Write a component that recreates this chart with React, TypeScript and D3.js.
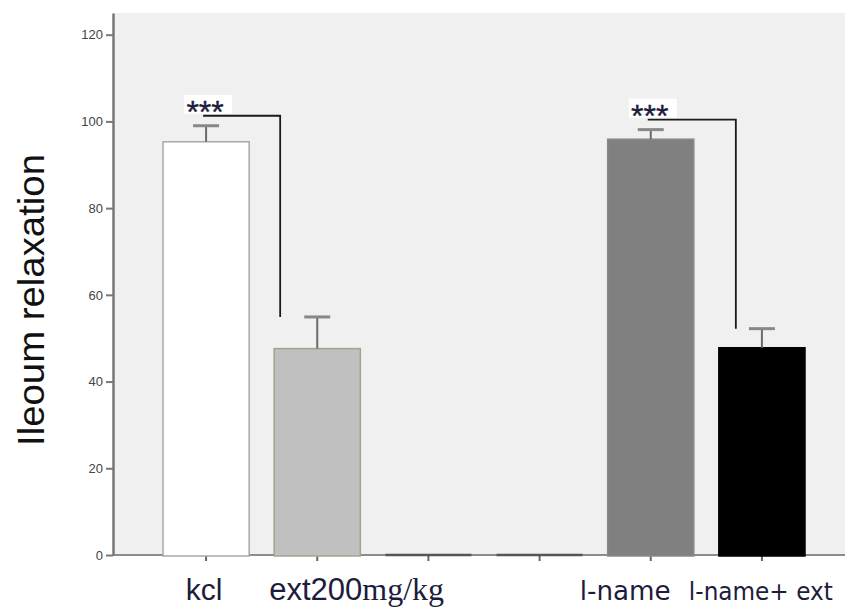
import React, { useRef, useEffect } from "react";
import * as d3 from "d3";

const width = 845;
const height = 607;
const plot = { left: 113, top: 13, right: 845, bottom: 555 };

// groups left to right, two empty slots in the middle
const categories = ["kcl", "ext200mg/kg", "", "", "l-name", "l-name+ ext"];
const means = [95.3, 47.6, 0, 0, 95.9, 47.8];
const errors = [3.7, 7.3, 0, 0, 2.2, 4.4];
const yTicks = [0, 20, 40, 60, 80, 100, 120];

// significance brackets
const sigFrom = [0, 4];
const sigTo = [1, 5];
const sigHeight = [101.3, 100.4];
const sigText = ["***", "***"];

const barFill = ["#ffffff", "#c0c0c0", "#c0c0c0", "#c0c0c0", "#808080", "#000000"];
const barStroke = ["#a8a8a8", "#a4a48a", "#555555", "#555555", "#8a8a8a", "#000000"];

const sans = "'Liberation Sans', Arial, sans-serif";

const App = () => {
    const svgRef = useRef<SVGSVGElement>(null);

    useEffect(() => {
        const svg = d3.select(svgRef.current);
        svg.selectAll("*").remove();

        const x = d3
            .scaleBand<number>()
            .domain(d3.range(categories.length))
            .range([150.5, 817.5])
            .paddingInner(0.225)
            .paddingOuter(0.1125);
        const y = d3.scaleLinear().domain([0, 125]).range([plot.bottom, plot.top]);
        const bw = x.bandwidth();
        const cx = (i: number) => (x(i) as number) + bw / 2;

        // plot background
        svg.append("rect")
            .attr("x", plot.left)
            .attr("y", plot.top)
            .attr("width", plot.right - plot.left)
            .attr("height", plot.bottom - plot.top)
            .attr("fill", "#f0f0f0");

        // x axis line + ticks
        svg.append("line")
            .attr("x1", plot.left)
            .attr("x2", plot.right)
            .attr("y1", plot.bottom)
            .attr("y2", plot.bottom)
            .attr("stroke", "#8c8c8c")
            .attr("stroke-width", 2);
        svg.append("g")
            .selectAll("line")
            .data(categories)
            .join("line")
            .attr("x1", (d, i) => cx(i))
            .attr("x2", (d, i) => cx(i))
            .attr("y1", plot.bottom)
            .attr("y2", plot.bottom + 6)
            .attr("stroke", "#666")
            .attr("stroke-width", 2);

        // y axis
        const yAxis = svg
            .append("g")
            .attr("transform", `translate(${plot.left},0)`)
            .call(
                d3.axisLeft(y).tickValues(yTicks).tickSize(7).tickSizeOuter(0).tickPadding(3)
            );
        yAxis.select(".domain").attr("stroke", "#777").attr("stroke-width", 2.5);
        yAxis.selectAll(".tick line").attr("stroke", "#777").attr("stroke-width", 2);
        yAxis
            .selectAll(".tick text")
            .attr("fill", "#444")
            .attr("font-size", 13)
            .attr("font-family", sans);

        // bars
        const idx = d3.range(categories.length);
        svg.append("g")
            .selectAll("rect")
            .data(idx.filter((i) => means[i] > 0))
            .join("rect")
            .attr("x", (i) => x(i) as number)
            .attr("y", (i) => y(means[i]))
            .attr("width", bw)
            .attr("height", (i) => plot.bottom - y(means[i]) + 1)
            .attr("fill", (i) => barFill[i])
            .attr("stroke", (i) => barStroke[i])
            .attr("stroke-width", 1.5);

        // empty groups: flat bars on the axis
        svg.append("g")
            .selectAll("line")
            .data(idx.filter((i) => means[i] === 0))
            .join("line")
            .attr("x1", (i) => x(i) as number)
            .attr("x2", (i) => (x(i) as number) + bw)
            .attr("y1", plot.bottom)
            .attr("y2", plot.bottom)
            .attr("stroke", (i) => barStroke[i])
            .attr("stroke-width", 2.5);

        // error bars
        const err = svg.append("g").selectAll("g").data(idx.filter((i) => errors[i] > 0)).join("g");
        err.append("line")
            .attr("x1", (i) => cx(i))
            .attr("x2", (i) => cx(i))
            .attr("y1", (i) => y(means[i]))
            .attr("y2", (i) => y(means[i] + errors[i]))
            .attr("stroke", "#6a6a6a")
            .attr("stroke-width", 2);
        err.append("line")
            .attr("x1", (i) => cx(i) - 13)
            .attr("x2", (i) => cx(i) + 13)
            .attr("y1", (i) => y(means[i] + errors[i]))
            .attr("y2", (i) => y(means[i] + errors[i]))
            .attr("stroke", "#888")
            .attr("stroke-width", 3);

        // significance brackets
        const endShift = [6, 17];
        sigFrom.forEach((a, k) => {
            const b = sigTo[k];
            const ly = y(sigHeight[k]);
            svg.append("path")
                .attr(
                    "d",
                    `M${cx(a) - 3},${ly}H${(x(b) as number) + endShift[k]}V${y(means[b] + errors[b])}`
                )
                .attr("fill", "none")
                .attr("stroke", "#1a1a1a")
                .attr("stroke-width", 1.8);
            svg.append("rect")
                .attr("x", cx(a) - 22)
                .attr("y", ly - 21)
                .attr("width", 48)
                .attr("height", 19)
                .attr("fill", "#ffffff");
            svg.append("text")
                .attr("x", cx(a) - 1)
                .attr("y", ly + 7)
                .attr("text-anchor", "middle")
                .attr("font-family", sans)
                .attr("font-size", 32)
                .attr("fill", "#1c1c3c")
                .attr("stroke", "#1c1c3c")
                .attr("stroke-width", 0.4)
                .text(sigText[k]);
        });

        // category labels
        const labelY = 600;
        const lab = svg.append("g").attr("fill", "#1c1c3c");
        lab.append("text")
            .attr("x", cx(0) - 2)
            .attr("y", labelY)
            .attr("text-anchor", "middle")
            .attr("font-family", sans)
            .attr("font-size", 30)
            .text(categories[0]);
        const ext = lab.append("text").attr("x", (x(1) as number) - 5).attr("y", labelY);
        ext.append("tspan").attr("font-family", sans).attr("font-size", 31).text(categories[1].slice(0, 6));
        ext.append("tspan")
            .attr("font-family", "'Liberation Serif', 'Times New Roman', serif")
            .attr("font-size", 32)
            .text(categories[1].slice(6));
        lab.append("text")
            .attr("x", (x(4) as number) - 28)
            .attr("y", labelY)
            .attr("font-family", "'DejaVu Sans', Verdana, sans-serif")
            .attr("font-size", 26)
            .attr("textLength", 91)
            .attr("lengthAdjust", "spacingAndGlyphs")
            .text(categories[4]);
        lab.append("text")
            .attr("x", (x(5) as number) - 30)
            .attr("y", labelY)
            .attr("font-family", "'DejaVu Sans', Verdana, sans-serif")
            .attr("font-size", 25)
            .attr("textLength", 144)
            .attr("lengthAdjust", "spacingAndGlyphs")
            .text(categories[5]);

        // y axis title
        svg.append("text")
            .attr("transform", "translate(44,300) rotate(-90)")
            .attr("text-anchor", "middle")
            .attr("font-family", sans)
            .attr("font-size", 37)
            .attr("textLength", 292)
            .attr("lengthAdjust", "spacingAndGlyphs")
            .attr("fill", "#111")
            .text("Ileoum relaxation");
    }, []);

    return (
        <svg
            ref={svgRef}
            width={width}
            height={height}
            style={{ position: "absolute", left: 0, top: 0, background: "#fff" }}
        />
    );
};

export default App;
